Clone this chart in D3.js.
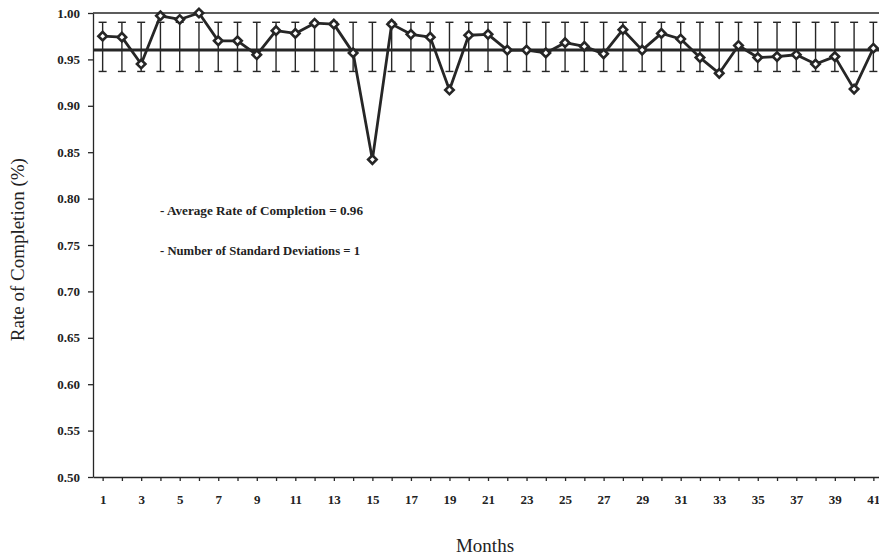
<!DOCTYPE html>
<html>
<head>
<meta charset="utf-8">
<script src="https://cdn.jsdelivr.net/npm/d3@7"></script>
<style>
  body { margin: 0; background: #fff; }
  text { font-family: "Liberation Serif", "DejaVu Serif", serif; fill: #222; }
</style>
</head>
<body>
<div id="container"></div>
<script>
/* CONSTANTS AND GLOBALS */
const width = 879,
  height = 557,
  margin = { top: 13, bottom: 80, left: 93, right: -4 };

const ink = "#262626";

/* DATA */
const months = d3.range(1, 42);
const rates = [
  0.975, 0.974, 0.945, 0.997, 0.993, 1.000, 0.970, 0.970, 0.955, 0.981,
  0.978, 0.989, 0.988, 0.957, 0.842, 0.988, 0.977, 0.974, 0.917, 0.976,
  0.977, 0.960, 0.960, 0.957, 0.968, 0.964, 0.956, 0.982, 0.960, 0.978,
  0.972, 0.952, 0.935, 0.965, 0.952, 0.953, 0.955, 0.945, 0.953, 0.918,
  0.962
];
const averageRate = 0.96;
const upperBar = 0.99;
const lowerBar = 0.937;
const yTicks = [0.50, 0.55, 0.60, 0.65, 0.70, 0.75, 0.80, 0.85, 0.90, 0.95, 1.00];
const xLabelTicks = d3.range(1, 42, 2);
const notes = [
  "- Average  Rate of Completion = 0.96",
  "- Number of Standard Deviations = 1"
];

const data = months.map((m, i) => ({ month: m, rate: rates[i] }));

/* SCALES */
const xScale = d3.scaleLinear()
  .domain([0.5, 41.5])
  .range([margin.left, width - margin.right]);

const yScale = d3.scaleLinear()
  .domain([0.5, 1.0])
  .range([height - margin.bottom, margin.top]);

const svg = d3.select("#container")
  .append("svg")
  .attr("width", width)
  .attr("height", height);

/* AXES */
const xAxis = d3.axisBottom(xScale)
  .tickValues(months)
  .tickSize(4)
  .tickSizeOuter(0)
  .tickFormat(d => xLabelTicks.includes(d) ? d : "");

const xAxisGroup = svg.append("g")
  .attr("transform", `translate(0, ${height - margin.bottom})`)
  .call(xAxis);

xAxisGroup.selectAll("text")
  .attr("y", 18)
  .style("font-size", "13px")
  .style("font-weight", "bold");

const yAxis = d3.axisLeft(yScale)
  .tickValues(yTicks)
  .tickSize(5)
  .tickSizeOuter(0)
  .tickFormat(d3.format(".2f"));

const yAxisGroup = svg.append("g")
  .attr("transform", `translate(${margin.left}, 0)`)
  .call(yAxis);

yAxisGroup.selectAll("text")
  .attr("x", -13)
  .style("font-size", "13px")
  .style("font-weight", "bold");

svg.selectAll(".domain, .tick line")
  .attr("stroke", ink)
  .attr("stroke-width", 1.3);

// top frame line
svg.append("line")
  .attr("x1", xScale(0.5))
  .attr("x2", xScale(41.5))
  .attr("y1", yScale(1.0))
  .attr("y2", yScale(1.0))
  .attr("stroke", ink)
  .attr("stroke-width", 1.5);

// axis titles
svg.append("text")
  .attr("x", 485)
  .attr("y", 552)
  .attr("text-anchor", "middle")
  .style("font-size", "19px")
  .text("Months");

svg.append("text")
  .attr("transform", `translate(24, ${yScale(0.745)}) rotate(-90)`)
  .attr("text-anchor", "middle")
  .style("font-size", "19px")
  .text("Rate of Completion (%)");

/* ERROR BARS */
const bars = svg.append("g")
  .attr("stroke", ink)
  .attr("stroke-width", 1.4);

bars.selectAll(".stem")
  .data(data)
  .join("line")
  .attr("x1", d => xScale(d.month))
  .attr("x2", d => xScale(d.month))
  .attr("y1", yScale(upperBar))
  .attr("y2", yScale(lowerBar));

[upperBar, lowerBar].forEach(v => {
  bars.selectAll(null)
    .data(data)
    .join("line")
    .attr("x1", d => xScale(d.month) - 4)
    .attr("x2", d => xScale(d.month) + 4)
    .attr("y1", yScale(v))
    .attr("y2", yScale(v));
});

/* AVERAGE LINE */
svg.append("line")
  .attr("x1", xScale(0.5))
  .attr("x2", xScale(41.5))
  .attr("y1", yScale(averageRate))
  .attr("y2", yScale(averageRate))
  .attr("stroke", ink)
  .attr("stroke-width", 3);

/* SERIES LINE */
const lineGen = d3.line()
  .x(d => xScale(d.month))
  .y(d => yScale(d.rate));

svg.append("path")
  .datum(data)
  .attr("d", lineGen)
  .attr("fill", "none")
  .attr("stroke", ink)
  .attr("stroke-width", 2.8)
  .attr("stroke-linejoin", "round");

// diamond markers
svg.selectAll(".marker")
  .data(data)
  .join("path")
  .attr("class", "marker")
  .attr("transform", d => `translate(${xScale(d.month)}, ${yScale(d.rate)}) rotate(45)`)
  .attr("d", d3.symbol(d3.symbolSquare, 36))
  .attr("fill", "#fff")
  .attr("stroke", ink)
  .attr("stroke-width", 2.6);

/* NOTES */
svg.selectAll(".note")
  .data(notes)
  .join("text")
  .attr("class", "note")
  .attr("x", 160)
  .attr("y", (d, i) => 215 + i * 40)
  .style("font-size", "12.5px")
  .style("font-weight", "bold")
  .attr("textLength", (d, i) => i === 0 ? 203 : 200)
  .attr("lengthAdjust", "spacingAndGlyphs")
  .text(d => d);
</script>
</body>
</html>
